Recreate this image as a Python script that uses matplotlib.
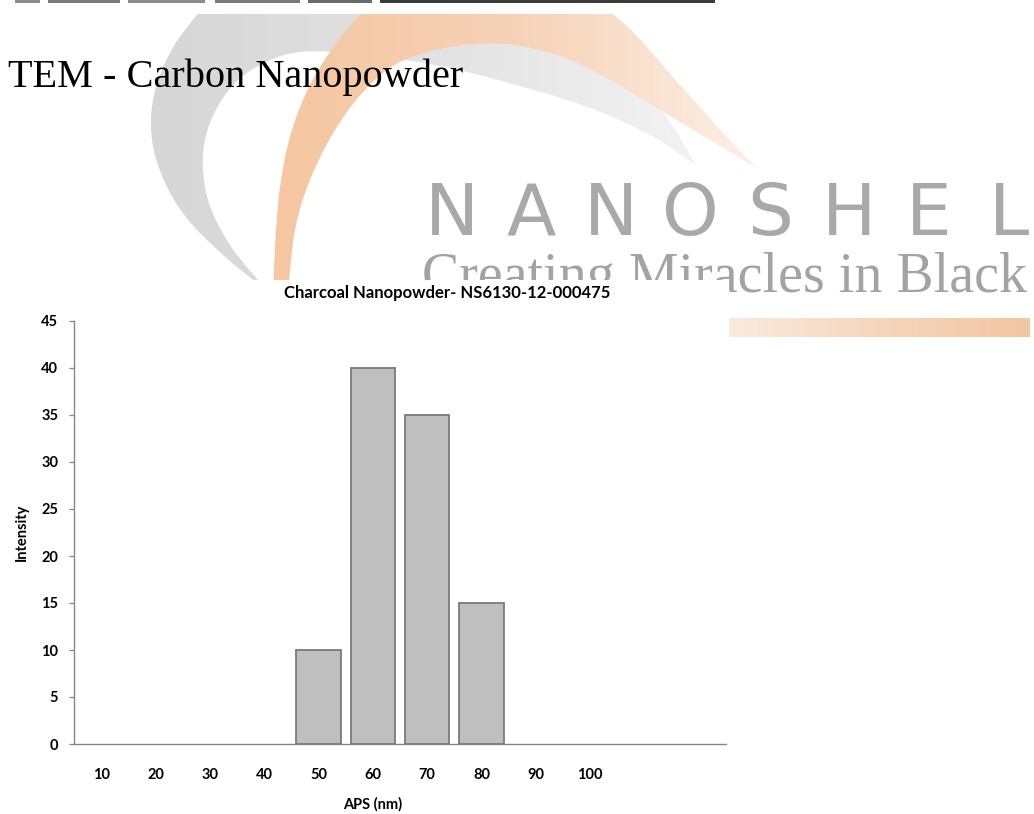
import numpy as np
import matplotlib
matplotlib.use("Agg")
import matplotlib.pyplot as plt
from matplotlib.path import Path
from matplotlib.patches import PathPatch, Rectangle
from matplotlib.colors import LinearSegmentedColormap

# ---- data -------------------------------------------------------------
size_labels = ["10", "20", "30", "40", "50", "60", "70", "80", "90", "100", "", ""]
intensity = [0, 0, 0, 0, 10, 40, 35, 15, 0, 0, 0, 0]
y_ticks = [0, 5, 10, 15, 20, 25, 30, 35, 40, 45]

W, H = 1034, 814
fig = plt.figure(figsize=(W / 100, H / 100), dpi=100)
fig.patch.set_facecolor("white")

CHART_FONT = ["Lato", "DejaVu Sans"]
SERIF = ["Liberation Serif", "DejaVu Serif"]


def catmull(points, n=24):
    """Smooth open curve through the given points."""
    p = np.asarray(points, float)
    p = np.vstack([p[0] * 2 - p[1], p, p[-1] * 2 - p[-2]])
    out = []
    t = np.linspace(0, 1, n, endpoint=False)[:, None]
    for i in range(1, len(p) - 2):
        p0, p1, p2, p3 = p[i - 1], p[i], p[i + 1], p[i + 2]
        seg = 0.5 * ((2 * p1) + (-p0 + p2) * t + (2 * p0 - 5 * p1 + 4 * p2 - p3) * t ** 2
                     + (-p0 + 3 * p1 - 3 * p2 + p3) * t ** 3)
        out.append(seg)
    out.append(p[-2][None, :])
    return np.vstack(out)


def crescent(outer, inner):
    a = catmull(outer)
    b = catmull(inner)[::-1]
    verts = np.vstack([a, b, a[:1]])
    codes = [Path.MOVETO] + [Path.LINETO] * (len(verts) - 2) + [Path.CLOSEPOLY]
    return Path(verts, codes)


def gradient_fill(ax, path, colors, x0, x1, z):
    patch = PathPatch(path, facecolor="none", edgecolor="none", zorder=z)
    ax.add_patch(patch)
    cmap = LinearSegmentedColormap.from_list("g", colors)
    grad = np.linspace(0, 1, 256)[None, :]
    ext = path.get_extents()
    im = ax.imshow(grad, cmap=cmap, aspect="auto", extent=(x0, x1, ext.y1, ext.y0),
                   zorder=z, interpolation="bilinear")
    im.set_clip_path(patch)


# ---- background logo layer (pixel coordinates) --------------------------
bg = fig.add_axes([0, 0, 1, 1], zorder=0)
bg.set_xlim(0, W)
bg.set_ylim(H, 0)
bg.axis("off")

grey_outer = [(268, 292), (222, 254), (182, 212), (158, 165), (151, 120), (160, 75),
              (185, 30), (225, -5), (320, -25), (440, -15), (540, 10), (615, 55),
              (665, 115), (696, 165)]
grey_inner = [(268, 292), (230, 245), (208, 200), (203, 155), (212, 118), (233, 85),
              (262, 64), (300, 52), (360, 54), (440, 66), (520, 86), (590, 108),
              (650, 135), (696, 165)]
gradient_fill(bg, crescent(grey_outer, grey_inner),
              ["#d6d6d6", "#e2e2e2", "#f3f3f3"], 150, 700, 1)

orange_outer = [(273, 292), (276, 230), (281, 180), (292, 130), (310, 85), (335, 45),
                (365, 10), (400, -15), (480, -30), (560, -15), (620, 20), (680, 85),
                (725, 135), (757, 168)]
orange_inner = [(288, 292), (295, 230), (310, 180), (335, 130), (365, 90), (400, 62),
                (450, 47), (505, 44), (560, 56), (610, 80), (660, 110), (710, 140),
                (757, 168)]
gradient_fill(bg, crescent(orange_outer, orange_inner),
              ["#f5c6a0", "#f7d2b6", "#fdf0e6"], 270, 760, 2)

# company name, widely tracked
brand = "NANOSHEL"
for i, ch in enumerate(brand):
    cx = 452 + i * 79.5
    bg.text(cx, 235, ch, fontsize=52, color="#a9a9a9", family=["DejaVu Sans"],
            ha="center", va="baseline", zorder=3)
bg.text(422, 292, "Creating Miracles in Black", fontsize=40.3, color="#a3a3a3",
        family=SERIF, ha="left", va="baseline", zorder=3)

# underline bar with gradient
bar_path = Path([(729, 318), (1030, 318), (1030, 337), (729, 337), (729, 318)],
                [Path.MOVETO, Path.LINETO, Path.LINETO, Path.LINETO, Path.CLOSEPOLY])
gradient_fill(bg, bar_path, ["#fbebdf", "#f7d5bb", "#f3c6a3"], 729, 1030, 3)

# top margin mask and clipped header line
bg.add_patch(Rectangle((0, 0), W, 14, facecolor="white", edgecolor="none", zorder=4))
for x0, x1, c in [(15, 40, "#8a8a8a"), (48, 120, "#7a7a7a"), (128, 205, "#8a8a8a"),
                  (215, 300, "#7a7a7a"), (308, 372, "#6a6a6a"), (380, 715, "#3c3c3c")]:
    bg.add_patch(Rectangle((x0, 0), x1 - x0, 3, facecolor=c, edgecolor="none", zorder=5))

# white panel holding the chart
bg.add_patch(Rectangle((0, 280), 729, H - 280, facecolor="white", edgecolor="none", zorder=6))

# page heading
fig.text(8 / W, 1 - 87 / H, "TEM - Carbon Nanopowder", fontsize=29, family=SERIF,
         color="black", ha="left", va="baseline", zorder=7)

# ---- bar chart -------------------------------------------------------
ax = fig.add_axes([74 / W, 1 - 744 / H, (726 - 74) / W, (744 - 321) / H], zorder=10)
ax.patch.set_alpha(0)

x = np.arange(len(size_labels))
vals = np.array(intensity, float)
nz = vals > 0
ax.bar(x[nz], vals[nz], width=0.81, color="#bfbfbf", edgecolor="#7a7a7a",
       linewidth=1.3, zorder=3)

ax.set_xlim(-0.5, len(size_labels) - 0.5)
ax.set_ylim(0, 45)
ax.set_yticks(y_ticks)
ax.set_xticks(x)
ax.set_xticklabels(size_labels)

for s in ["top", "right"]:
    ax.spines[s].set_visible(False)
for s in ["left", "bottom"]:
    ax.spines[s].set_color("#868686")
    ax.spines[s].set_linewidth(1.0)

ax.tick_params(axis="y", direction="out", length=3.8, width=0.9, color="#868686",
               pad=7.5, labelsize=10.5)
ax.tick_params(axis="x", length=0, pad=17, labelsize=10.5)
for lab in ax.get_xticklabels() + ax.get_yticklabels():
    lab.set_fontweight("bold")
    lab.set_family(CHART_FONT)
    lab.set_color("black")

fig.text(447 / W, 1 - 298 / H, "Charcoal Nanopowder- NS6130-12-000475", fontsize=12,
         fontweight="bold", family=CHART_FONT, ha="center", va="baseline", zorder=11)
fig.text(22 / W, 1 - 532 / H, "Intensity", fontsize=10.5, fontweight="bold",
         family=CHART_FONT, rotation=90, ha="center", va="center", zorder=11)
fig.text(373 / W, 1 - 804 / H, "APS (nm)", fontsize=10.5, fontweight="bold",
         family=CHART_FONT, ha="center", va="center", zorder=11)

fig.savefig("out.png", dpi=100, facecolor="white")
